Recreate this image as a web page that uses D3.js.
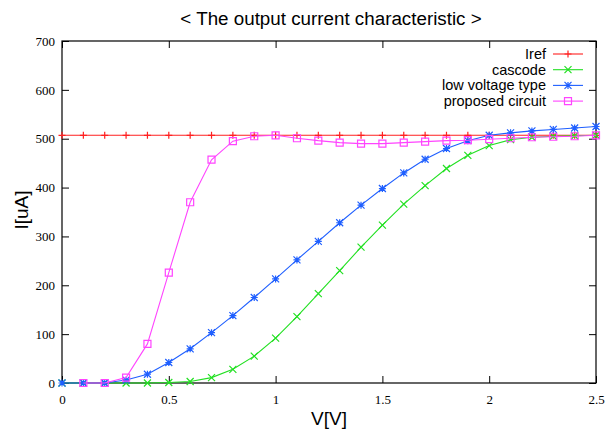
<!DOCTYPE html>
<html>
<head>
<meta charset="utf-8">
<script src="https://cdn.jsdelivr.net/npm/d3@7"></script>
<style>
  body { margin: 0; background: #fff; }
  svg { display: block; }
  .tick text { font-family: "Liberation Serif", "DejaVu Serif", serif; font-size: 13px; fill: #000; }
</style>
</head>
<body>
<svg id="chart" width="606" height="435"></svg>
<script>
// voltage sweep, 0 .. 2.5 V
const volts = [0, 0.1, 0.2, 0.3, 0.4, 0.5, 0.6, 0.7, 0.8, 0.9, 1.0, 1.1, 1.2,
  1.3, 1.4, 1.5, 1.6, 1.7, 1.8, 1.9, 2.0, 2.1, 2.2, 2.3, 2.4, 2.5];

const iref = [507, 507, 507, 507, 507, 507, 507, 507, 507, 507, 507, 507, 507,
  507, 507, 507, 507, 507, 507, 507, 507, 507, 507, 507, 507, 507];
const cascode = [0, 0, 0, 0, 0, 1, 3, 11, 28, 55, 92, 136, 183,
  230, 278, 323, 366, 404, 439, 466, 486, 498, 503, 505, 506, 507];
const lowVoltage = [0, 0, 0, 6, 18, 42, 70, 103, 138, 175, 213, 252, 290,
  328, 364, 398, 430, 458, 480, 496, 507, 512, 516, 519, 522, 525];
// proposed circuit has no point at 0 V
const proposed = [null, 0, 0, 11, 80, 226, 370, 457, 495, 505, 507, 501, 496,
  492, 490, 490, 492, 494, 496, 497, 499, 501, 503, 504, 505, 507];

const seriesNames = ['Iref', 'cascode', 'low voltage type', 'proposed circuit'];
const seriesColors = ['#ff2020', '#22e022', '#1f5fff', '#ff44ff'];
const seriesMarkers = ['plus', 'cross', 'star', 'square'];
const seriesValues = [iref, cascode, lowVoltage, proposed];

const xTicks = [0, 0.5, 1, 1.5, 2, 2.5];
const yTicks = [0, 100, 200, 300, 400, 500, 600, 700];

const margin = { left: 62, right: 10, top: 41, bottom: 52 };
const width = 606, height = 435;

const svg = d3.select('#chart');

const x = d3.scaleLinear().domain([0, 2.5]).range([margin.left, width - margin.right]);
const y = d3.scaleLinear().domain([0, 700]).range([height - margin.bottom, margin.top]);

// axes with inward ticks, mirrored on top and right
const tickLen = 7;
svg.append('g')
  .attr('transform', `translate(0,${y(0)})`)
  .call(d3.axisBottom(x).tickValues(xTicks).tickSizeInner(-tickLen).tickSizeOuter(0)
    .tickPadding(12).tickFormat(d3.format('')))
  .call(g => g.select('.domain').remove());
svg.append('g')
  .attr('transform', `translate(${x(0)},0)`)
  .call(d3.axisLeft(y).tickValues(yTicks).tickSizeInner(-tickLen).tickSizeOuter(0)
    .tickPadding(7))
  .call(g => g.select('.domain').remove());
svg.append('g')
  .attr('transform', `translate(0,${y(700)})`)
  .call(d3.axisTop(x).tickValues(xTicks).tickSizeInner(-tickLen).tickSizeOuter(0).tickFormat(''))
  .call(g => g.select('.domain').remove());
svg.append('g')
  .attr('transform', `translate(${x(2.5)},0)`)
  .call(d3.axisRight(y).tickValues(yTicks).tickSizeInner(-tickLen).tickSizeOuter(0).tickFormat(''))
  .call(g => g.select('.domain').remove());
svg.selectAll('.tick line').attr('stroke', '#000');

// frame
svg.append('rect')
  .attr('x', x(0)).attr('y', y(700))
  .attr('width', x(2.5) - x(0)).attr('height', y(0) - y(700))
  .attr('fill', 'none').attr('stroke', '#000').attr('stroke-width', 1.2);

const marker = function (sel, type, color) {
  const s = 3.5;
  let d;
  switch (type) {
    case 'plus':
      d = `M${-s},0H${s}M0,${-s}V${s}`;
      break;
    case 'cross':
      d = `M${-s},${-s}L${s},${s}M${-s},${s}L${s},${-s}`;
      break;
    case 'star':
      d = `M${-s},0H${s}M0,${-s}V${s}M${-s},${-s}L${s},${s}M${-s},${s}L${s},${-s}`;
      break;
    default:
      d = `M${-s},${-s}H${s}V${s}H${-s}Z`;
  }
  sel.append('path').attr('d', d).attr('fill', 'none')
    .attr('stroke', color).attr('stroke-width', 1.2);
};

const line = d3.line()
  .defined(d => d.v !== null)
  .x(d => x(d.t))
  .y(d => y(d.v));

const plot = svg.append('g');

seriesValues.forEach(function (vals, i) {
  const pts = volts.map((t, k) => ({ t: t, v: vals[k] }));
  const g = plot.append('g');
  g.append('path')
    .attr('d', line(pts))
    .attr('fill', 'none')
    .attr('stroke', seriesColors[i])
    .attr('stroke-width', 1.1);
  pts.filter(p => p.v !== null).forEach(function (p) {
    const m = g.append('g').attr('transform', `translate(${x(p.t)},${y(p.v)})`);
    marker(m, seriesMarkers[i], seriesColors[i]);
  });
});

// legend
const legend = svg.append('g');
seriesNames.forEach(function (name, i) {
  const ly = 54 + i * 15.7;
  legend.append('text')
    .attr('x', 546).attr('y', ly)
    .attr('dy', '0.35em')
    .attr('text-anchor', 'end')
    .attr('font-family', '"Liberation Sans", Arial, sans-serif')
    .attr('font-size', 14.5)
    .text(name);
  legend.append('line')
    .attr('x1', 553).attr('x2', 583).attr('y1', ly).attr('y2', ly)
    .attr('stroke', seriesColors[i]).attr('stroke-width', 1.1);
  const m = legend.append('g').attr('transform', `translate(568,${ly})`);
  marker(m, seriesMarkers[i], seriesColors[i]);
});

// title and axis labels
svg.append('text')
  .attr('x', 331).attr('y', 25)
  .attr('text-anchor', 'middle')
  .attr('font-family', '"Liberation Sans", Arial, sans-serif')
  .attr('font-size', 18.8)
  .text('< The output current characteristic >');
svg.append('text')
  .attr('x', 329).attr('y', 425)
  .attr('text-anchor', 'middle')
  .attr('font-family', '"Liberation Sans", Arial, sans-serif')
  .attr('font-size', 19)
  .text('V[V]');
svg.append('text')
  .attr('transform', `translate(28,210) rotate(-90)`)
  .attr('text-anchor', 'middle')
  .attr('font-family', '"Liberation Sans", Arial, sans-serif')
  .attr('font-size', 19)
  .text('I[uA]');
</script>
</body>
</html>
